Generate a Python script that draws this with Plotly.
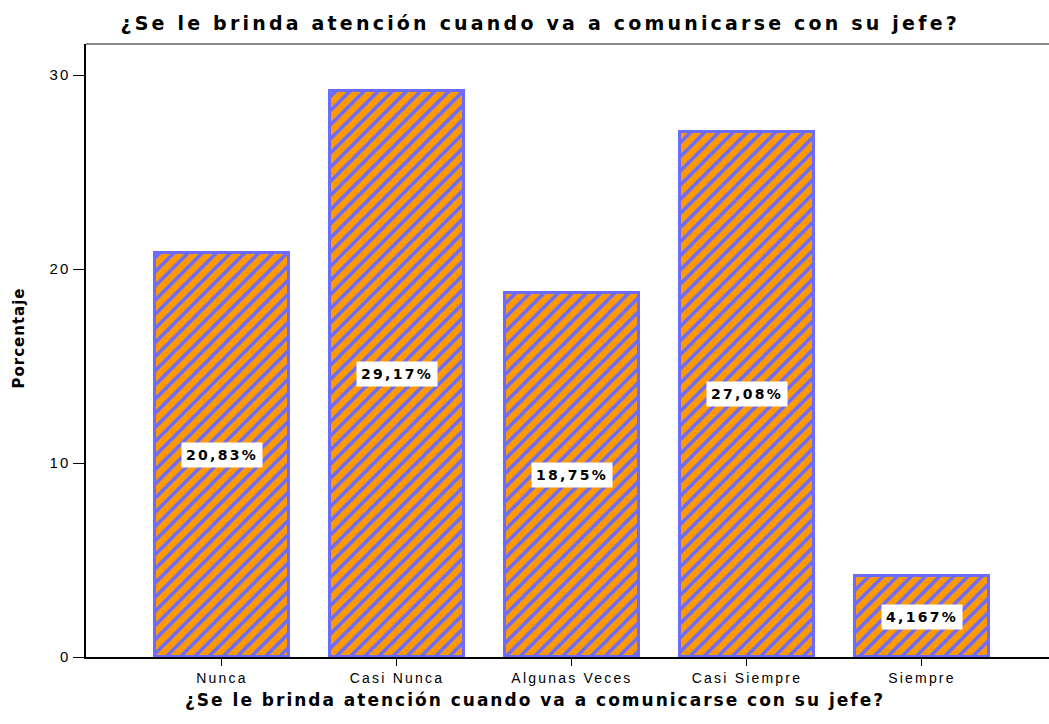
import plotly.graph_objects as go

categories = ["Nunca", "Casi Nunca", "Algunas Veces", "Casi Siempre", "Siempre"]
percentages = [20.83, 29.17, 18.75, 27.08, 4.167]
value_labels = ["20,83%", "29,17%", "18,75%", "27,08%", "4,167%"]
y_ticks = [0, 10, 20, 30]

title_text = "¿Se le brinda atención cuando va a comunicarse con su jefe?"
y_title = "Porcentaje"
positions = list(range(len(categories)))


def spaced(text, px):
    """Wrap text in a span with extra letter spacing."""
    return f'<span style="letter-spacing:{px}px">{text}</span>'


fig = go.Figure(
    go.Bar(
        x=positions,
        y=percentages,
        width=0.77,
        marker=dict(
            color="#FF9900",
            line=dict(color="#6B6BFF", width=3),
            pattern=dict(shape="/", fgcolor="#6B6BFF", bgcolor="#FF9900",
                         size=10, solidity=0.35, fillmode="replace"),
        ),
        hoverinfo="skip",
    )
)

for xi, v, lab in zip(positions, percentages, value_labels):
    fig.add_annotation(
        x=xi, y=v / 2, text=spaced(lab, 2.3), showarrow=False,
        font=dict(family="DejaVu Sans", size=14, color="black", weight="bold"),
        bgcolor="white", borderpad=4,
    )

# x-axis title drawn as an annotation below the tick labels
fig.add_annotation(
    xref="paper", yref="paper", x=0.466, y=0, yshift=-43, yanchor="middle",
    text=spaced(title_text, 2.0), showarrow=False,
    font=dict(family="DejaVu Sans", size=17, color="black", weight="bold"),
)

# y-axis title
fig.add_annotation(
    xref="paper", yref="paper", x=0, xshift=-68, y=0.5, yshift=12, xanchor="center",
    text=spaced(y_title, 1.0), showarrow=False, textangle=-90,
    font=dict(family="DejaVu Sans", size=15, color="black", weight="bold"),
)

# light frame line along the top of the plot area
fig.add_shape(type="line", xref="paper", yref="paper", x0=0, x1=1, y0=1, y1=1,
              line=dict(color="#888888", width=2))

fig.update_layout(
    width=1049, height=724,
    margin=dict(l=86, r=0, t=44, b=67),
    paper_bgcolor="white", plot_bgcolor="white",
    showlegend=False,
    title=dict(text=spaced(title_text, 3.2), x=0.515, xanchor="center", y=0.968, yanchor="middle",
               font=dict(family="DejaVu Sans", size=19, color="black", weight="bold")),
    bargap=0,
)
fig.update_xaxes(
    range=[-0.777, 4.726],
    tickmode="array", tickvals=positions, ticktext=[spaced(c, 2.2) for c in categories],
    ticks="outside", ticklen=7, tickcolor="black",
    showline=True, linecolor="black", linewidth=1.5,
    showgrid=False, zeroline=False,
    tickfont=dict(family="Liberation Sans", size=14, color="black"),
)
fig.update_yaxes(
    range=[0, 31.6],
    tickmode="array", tickvals=y_ticks, ticktext=[spaced(str(t), 2) for t in y_ticks],
    ticks="outside", ticklen=11, tickcolor="black",
    showline=True, linecolor="black", linewidth=1.5,
    showgrid=False, zeroline=False,
    tickfont=dict(family="Liberation Sans", size=15, color="black"),
)

fig.write_html("out.html")
